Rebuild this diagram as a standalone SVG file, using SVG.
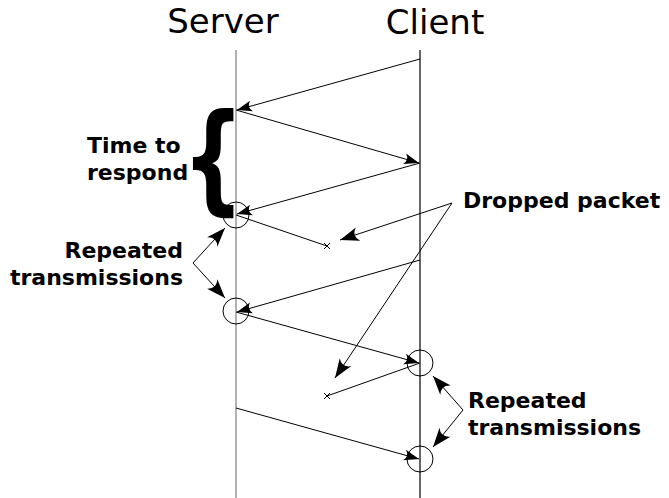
<svg xmlns="http://www.w3.org/2000/svg" width="669" height="498" viewBox="0 0 669 498">
<style>
.title{font-family:"DejaVu Sans",sans-serif;font-size:34px;fill:#000}
.lbl{font-family:"DejaVu Sans",sans-serif;font-size:22px;font-weight:bold;fill:#000}
.msg{stroke:#000;stroke-width:1;fill:none;marker-end:url(#ah)}
.ptr{stroke:#000;stroke-width:1;fill:none;marker-end:url(#ph)}
.drop{stroke:#000;stroke-width:1;fill:none}
.circ{stroke:#000;stroke-width:1;fill:none}
</style>
<defs>
<marker id="ah" markerUnits="userSpaceOnUse" orient="auto" refX="0" refY="0" markerWidth="20" markerHeight="20" overflow="visible">
<path d="M0,0 L-15,-5.5 Q-10,0 -15,5.5 Z" fill="#000"/>
</marker>
<marker id="ph" markerUnits="userSpaceOnUse" orient="auto" refX="0" refY="0" markerWidth="24" markerHeight="24" overflow="visible">
<path d="M0,0 L-19,-7 Q-12,0 -19,7 Z" fill="#000"/>
</marker>
</defs>
<rect width="669" height="498" fill="#fff"/>
<g id="server">
<text class="title" x="223" y="33" text-anchor="middle">Server</text>
<line x1="236" y1="50" x2="236" y2="498" stroke="#999" stroke-width="1.5"/>
</g>
<g id="client">
<text class="title" x="435" y="34" text-anchor="middle" font-size="35">Client</text>
<line x1="420" y1="50" x2="420" y2="498" stroke="#000" stroke-width="1.2"/>
</g>
<g id="time-to-respond">
<text class="lbl" x="87" y="153">Time to</text>
<text class="lbl" x="87" y="180">respond</text>
<text x="0" y="0" font-family="DejaVu Sans,sans-serif" font-weight="bold" font-size="120" transform="translate(182,199) scale(0.73,1)">{</text>
</g>
<g id="circles">
<circle class="circ" cx="236" cy="215" r="13"/>
<circle class="circ" cx="236" cy="311" r="13"/>
<circle class="circ" cx="420" cy="363" r="13"/>
<circle class="circ" cx="420" cy="459" r="13"/>
</g>
<g id="drop-marks" stroke="#000" stroke-width="1">
<path d="M324,243 L330,249 M330,243 L324,249"/>
<path d="M324,393 L330,399 M330,393 L324,399"/>
</g>
<g id="connectors">
<line class="msg" x1="420" y1="59" x2="237" y2="110"/>
<line class="msg" x1="236" y1="110" x2="419" y2="163"/>
<line class="msg" x1="420" y1="163" x2="237" y2="214"/>
<line class="drop" x1="236" y1="215" x2="327" y2="246"/>
<line class="msg" x1="420" y1="260" x2="237" y2="312"/>
<line class="msg" x1="236" y1="312" x2="419" y2="363"/>
<line class="drop" x1="420" y1="363" x2="327" y2="396"/>
<line class="msg" x1="236" y1="408" x2="419" y2="459"/>
<line class="ptr" x1="452" y1="203" x2="340" y2="240"/>
<line class="ptr" x1="452" y1="203" x2="335" y2="378"/>
<line class="ptr" x1="193" y1="263" x2="225" y2="228"/>
<line class="ptr" x1="193" y1="263" x2="225" y2="298"/>
<line class="ptr" x1="463" y1="410" x2="433" y2="376"/>
<line class="ptr" x1="463" y1="410" x2="433" y2="447"/>
</g>
<g id="dropped-label">
<text class="lbl" x="463" y="208">Dropped packet</text>
</g>
<g id="repeated-left">
<text class="lbl" x="183" y="258" text-anchor="end">Repeated</text>
<text class="lbl" x="183" y="285" text-anchor="end">transmissions</text>
</g>
<g id="repeated-right">
<text class="lbl" x="468" y="408">Repeated</text>
<text class="lbl" x="468" y="435">transmissions</text>
</g>
</svg>
